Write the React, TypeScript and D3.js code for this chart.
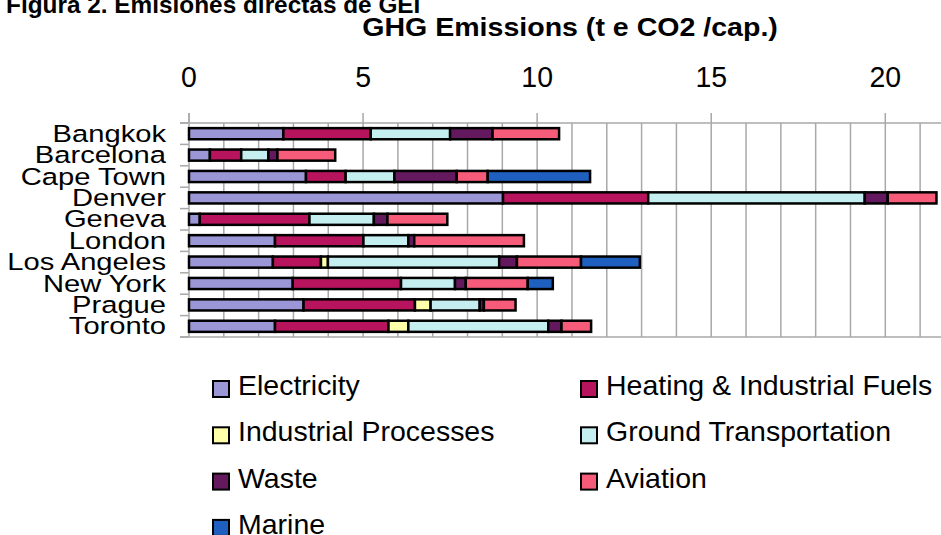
import React from 'react'
import * as d3 from 'd3'

const W = 941
const H = 535
const FONT = '"Liberation Sans", Arial, Helvetica, sans-serif'

// t CO2e per capita
const cities = ['Bangkok', 'Barcelona', 'Cape Town', 'Denver', 'Geneva', 'London', 'Los Angeles', 'New York', 'Prague', 'Toronto']
const electricity = [2.71, 0.60, 3.36, 9.02, 0.31, 2.47, 2.41, 2.98, 3.29, 2.47]
const heating = [2.51, 0.90, 1.14, 4.17, 3.15, 2.54, 1.38, 3.11, 3.20, 3.26]
const industrial = [0, 0, 0, 0, 0, 0, 0.20, 0, 0.45, 0.57]
const ground = [2.28, 0.78, 1.40, 6.22, 1.85, 1.29, 4.92, 1.55, 1.41, 4.02]
const waste = [1.22, 0.26, 1.79, 0.66, 0.39, 0.17, 0.51, 0.31, 0.12, 0.38]
const aviation = [1.91, 1.66, 0.89, 1.40, 1.72, 3.15, 1.84, 1.78, 0.91, 0.85]
const marine = [0, 0, 2.94, 0, 0, 0, 1.69, 0.72, 0, 0]

const seriesNames = ['Electricity', 'Heating & Industrial Fuels', 'Industrial Processes', 'Ground Transportation', 'Waste', 'Aviation', 'Marine']
const seriesValues = [electricity, heating, industrial, ground, waste, aviation, marine]
const seriesColors = ['#9b97d6', '#b8145e', '#ffffaa', '#c4eef0', '#64195f', '#f65c7a', '#1f5fbf']
const xTicks = [0, 5, 10, 15, 20]
const gridTicks = d3.range(1, 22)

export default function App() {
  const rows = cities.map((city, i) => {
    const r: Record<string, any> = { city }
    seriesNames.forEach((s, k) => { r[s] = seriesValues[k][i] })
    return r
  })
  const stacked = d3.stack<any>().keys(seriesNames)(rows)

  const x = d3.scaleLinear().domain([0, 21.6]).range([189, 941])
  const y = d3.scaleBand().domain(cities).range([123, 337]).paddingInner(0.48).paddingOuter(0.24)
  const step = y.step()
  const top = 123, bottom = 337

  return (
    <svg width={W} height={H} style={{ position: 'absolute', left: 0, top: 0, background: '#fff' }} fontFamily={FONT}>
      {/* caption + title */}
      <text transform="translate(6,13) scale(1.06,1)" fontSize={23} fontWeight="bold" fill="#000">Figura 2. Emisiones directas de GEI</text>
      <text transform="translate(570,36) scale(1.12,1)" fontSize={25.5} fontWeight="bold" textAnchor="middle" fill="#000">GHG Emissions (t e CO2 /cap.)</text>

      {/* top axis labels */}
      {xTicks.map(t => (
        <text key={t} transform={`translate(${x(t)},87) scale(0.95,1)`} fontSize={30} textAnchor="middle" fill="#000">{t}</text>
      ))}

      {/* grid */}
      <g stroke="#a8a8a8" strokeWidth={1.5}>
        {gridTicks.map(t => <line key={t} x1={x(t)} x2={x(t)} y1={top} y2={bottom} />)}
        {xTicks.map(t => <line key={'m' + t} x1={x(t)} x2={x(t)} y1={113} y2={top} />)}
        <line x1={180} x2={W} y1={top} y2={top} />
        <line x1={180} x2={W} y1={bottom} y2={bottom} />
        <line x1={x(0)} x2={x(0)} y1={113} y2={bottom} />
        {d3.range(cities.length + 1).map(i => (
          <line key={'c' + i} x1={180} x2={x(0)} y1={top + i * step} y2={top + i * step} />
        ))}
      </g>

      {/* category labels */}
      {cities.map(c => (
        <text key={c} transform={`translate(166,${(y(c) as number) + y.bandwidth() / 2 + 8}) scale(1.19,1)`}
          fontSize={24.5} textAnchor="end" fill="#000">{c}</text>
      ))}

      {/* bars */}
      {stacked.map((layer, k) => (
        <g key={layer.key} fill={seriesColors[k]} stroke="#000" strokeWidth={2.5}>
          {layer.map((d, i) => d[1] - d[0] > 0 ? (
            <rect key={i} x={x(d[0])} y={y(cities[i])} width={x(d[1]) - x(d[0])} height={y.bandwidth()} />
          ) : null)}
        </g>
      ))}

      {/* legend */}
      {seriesNames.map((s, i) => {
        const col = i % 2, row = Math.floor(i / 2)
        const sx = col === 0 ? 212 : 580
        const base = 395 + row * 46.3
        return (
          <g key={s}>
            <rect x={sx + 1} y={base - 14} width={16} height={16} fill={seriesColors[i]} stroke="#000" strokeWidth={2} />
            <text transform={`translate(${sx + 26},${base}) scale(1.055,1)`} fontSize={27} fill="#000">{s}</text>
          </g>
        )
      })}
    </svg>
  )
}
